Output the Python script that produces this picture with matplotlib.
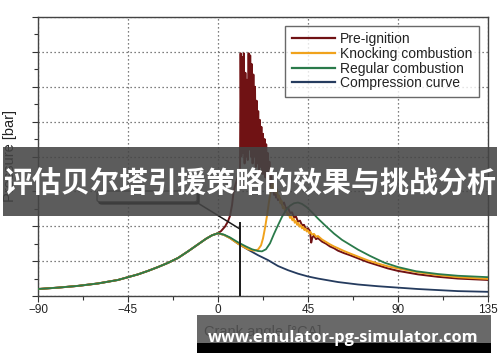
import matplotlib
matplotlib.use("Agg")
import matplotlib.pyplot as plt
from matplotlib.patches import Rectangle, FancyBboxPatch
from matplotlib.ticker import MultipleLocator, NullFormatter

plt.rcParams["font.family"] = ["Liberation Sans", "DejaVu Sans"]

W, H = 500, 362

# ---- data: crank angle [deg CA] and cylinder pressure [bar] ----
compression_x = [-90, -80, -70, -60, -50, -45, -40, -35, -30, -25, -20, -15, -10, -6, -3, 0,
                 3, 6, 10, 15, 20, 25, 30, 35, 40, 45, 50, 60, 70, 80, 90, 100, 110, 120, 135]
compression_y = [2.0, 2.4, 2.9, 3.6, 4.6, 5.4, 6.2, 7.2, 8.3, 9.5, 10.9, 12.8, 14.8, 16.4, 17.4, 18.0,
                 17.5, 16.6, 15.0, 13.3, 11.7, 10.3, 8.6, 7.4, 6.4, 5.6, 5.0, 4.0, 3.3, 2.8, 2.4, 2.0, 1.7, 1.4, 1.2]

intake_x = [-90, -80, -70, -60, -50, -45, -40, -35, -30, -25, -20, -15, -10, -6, -3]
intake_y = [2.0, 2.4, 2.9, 3.6, 4.6, 5.4, 6.2, 7.2, 8.3, 9.5, 10.9, 12.8, 14.8, 16.4, 17.4]

regular_x = intake_x + [0, 3, 6, 10, 14, 17, 20, 22, 24, 26, 28, 30, 32, 34, 36, 38, 40, 42, 44.3,
                        47, 50, 54, 58, 62, 66, 70, 76, 83, 90, 99, 110, 120, 135]
regular_y = intake_y + [18.0, 17.6, 16.8, 15.4, 14.2, 13.4, 12.9, 12.8, 13.4, 15.1, 17.8, 20.3, 22.7,
                        24.6, 25.9, 26.6, 26.8, 26.4, 25.5, 24.0, 22.2, 20.0, 17.9, 16.1, 14.7, 13.3,
                        11.5, 9.6, 8.3, 7.1, 6.3, 5.8, 5.4]

knock_x = intake_x + [0, 3, 6, 10, 15, 18, 20, 21.5, 22.5, 23.5, 24.5, 25.5, 26.3, 27, 27.6, 28.2,
                      28.8, 29.4, 30, 30.6, 31.2, 31.8, 32.4, 33, 33.6, 34.2, 34.8, 35.4, 36, 36.6,
                      37.2, 37.8, 38.4, 39, 39.6, 40.2, 40.8, 41.4, 42, 42.6, 43.2, 43.8, 44.4, 45,
                      45.6, 46.2, 47, 48, 49, 50, 52, 54, 56, 58, 60, 63, 66, 70, 75, 80, 85, 90,
                      100, 110, 120, 135]
knock_y = intake_y + [18.0, 17.5, 16.6, 15.0, 13.4, 13.0, 13.3, 14.5, 16.5, 19.5, 23.0, 27.0, 30.0,
                      32.0, 30.8, 32.3, 29.6, 30.6, 28.2, 28.8, 26.6, 27.3, 25.2, 25.7, 24.1, 24.6,
                      23.2, 23.7, 22.4, 22.9, 21.7, 22.2, 21.0, 21.5, 20.4, 20.9, 19.9, 20.3, 19.4,
                      19.8, 18.9, 19.3, 18.5, 18.8, 18.0, 18.4, 17.6, 17.8, 17.0, 17.2, 16.2, 15.5,
                      14.8, 14.2, 13.7, 12.9, 12.2, 11.3, 10.2, 9.3, 8.5, 7.9, 6.8, 6.0, 5.4, 4.9]

preign_x = intake_x + [0, 1.5, 3.5, 5, 6, 7, 7.7, 8.5, 9.3, 10.3, 11.0, 11.3, 11.7, 12.1, 12.5, 12.9,
                       13.3, 13.7, 14.1, 14.5, 14.9, 15.3, 15.7, 16.1, 16.5, 16.9, 17.3, 17.7, 18.1,
                       18.5, 18.9, 19.3, 19.7, 20.1, 20.5, 20.9, 21.3, 21.7, 22.1, 22.5, 22.9, 23.3,
                       23.7, 24.1, 24.5, 24.9, 25.3, 25.7, 26.1, 26.5, 27, 27.5, 28, 28.5, 29, 29.5,
                       30, 31, 32, 33, 34, 35, 36, 37, 38, 39, 40, 41, 42, 43, 44, 45, 46, 46.6, 47.2,
                       48, 49, 50, 52, 54, 56, 58, 60, 63, 66, 70, 75, 80, 85, 90, 100, 110, 120, 135]
preign_y = intake_y + [18.0, 18.6, 19.9, 21.4, 23.0, 26.0, 29.4, 31.5, 33.0, 35.0, 36.5, 69.6, 40.0,
                       68.5, 41.0, 69.6, 38.0, 64.0, 40.0, 62.0, 39.0, 69.6, 42.0, 69.0, 40.0, 66.5,
                       38.0, 63.5, 40.0, 60.0, 37.0, 56.0, 38.0, 53.0, 36.0, 50.5, 37.0, 48.5, 35.0,
                       46.5, 35.0, 45.0, 34.0, 43.5, 33.0, 41.0, 33.0, 38.5, 31.5, 35.5, 30.0, 32.0,
                       29.0, 30.5, 28.2, 29.4, 27.5, 28.0, 26.2, 26.8, 25.0, 25.4, 23.8, 24.0, 22.5,
                       22.8, 21.3, 21.6, 20.3, 20.4, 19.2, 19.4, 18.6, 15.3, 16.8, 17.3, 16.3, 16.6,
                       15.6, 15.0, 14.2, 13.7, 13.0, 12.3, 11.7, 10.8, 9.7, 8.8, 7.9, 7.2, 6.2, 5.5,
                       5.0, 4.6]

series_labels = ["Pre-ignition", "Knocking combustion", "Regular combustion", "Compression curve"]
series_colors = ["#701214", "#f0a21c", "#2a7a4a", "#253b5e"]

x_ticks = [-90, -45, 0, 45, 90, 135]
spark_angle = 10.8
title_text = "评估贝尔塔引援策略的效果与挑战分析"
site_text = "www.emulator-pg-simulator.com"

# ---- figure ----
fig = plt.figure(figsize=(W / 100, H / 100), dpi=100)
fig.patch.set_facecolor("white")

def fx(px):
    return px / W

def fy(py):
    return 1 - py / H

ax = fig.add_axes([fx(38), fy(296), fx(488) - fx(38), fy(17) - fy(296)])
ax.set_xlim(-90, 135)
ax.set_ylim(0, 80)

ax.plot(compression_x, compression_y, color=series_colors[3], lw=1.3, zorder=3)
ax.plot(preign_x, preign_y, color=series_colors[0], lw=1.4, zorder=4)
ax.plot(knock_x, knock_y, color=series_colors[1], lw=1.4, zorder=5)
ax.plot(regular_x, regular_y, color=series_colors[2], lw=1.3, zorder=6)

# spark marker and its callout
ax.plot([spark_angle, spark_angle], [0, 21], color="#1a1a1a", lw=1.4, zorder=7)
ax.plot([-12.5, 11.0], [27.5, 19.2], color="#1a1a1a", lw=1.1, zorder=7)
shadow = FancyBboxPatch((-59.5, 26.4), 50, 3.1, boxstyle="round,pad=0,rounding_size=1.5",
                        mutation_aspect=0.35, facecolor="black", edgecolor="black", zorder=7)
box = FancyBboxPatch((-60.5, 27.0), 50, 3.1, boxstyle="round,pad=0,rounding_size=1.5",
                     mutation_aspect=0.35, facecolor="white", edgecolor="#333333", lw=0.8, zorder=8)
ax.add_patch(shadow)
ax.add_patch(box)

ax.set_xticks(x_ticks)
ax.xaxis.set_minor_locator(MultipleLocator(22.5))
ax.yaxis.set_major_locator(MultipleLocator(10))
ax.yaxis.set_minor_locator(MultipleLocator(5))
ax.yaxis.set_major_formatter(NullFormatter())
ax.tick_params(axis="both", which="major", direction="out", length=4, width=0.8,
               colors="#333333", labelsize=8.5, labelcolor="#222222", pad=2)
ax.tick_params(axis="both", which="minor", direction="out", length=3, width=0.8, colors="#333333")
ax.grid(True, which="major", color="#555555", lw=0.9, linestyle=(0, (1, 2.2)))
for s in ax.spines.values():
    s.set_color("#444444")
    s.set_linewidth(1.0)

ax.set_xlabel("Crank angle [°CA]", fontsize=10.5, color="#222222", labelpad=6)
fig.text(fx(10), fy(156), "Pressure [bar]", rotation=90, ha="center", va="center",
         fontsize=10.5, color="#222222")

leg = ax.legend(series_labels, loc="upper right", fontsize=10, frameon=True, fancybox=False,
                handlelength=3.1, handletextpad=0.4, labelspacing=0.05, borderpad=0.45,
                borderaxespad=0.65)
for line, c in zip(leg.get_lines(), series_colors):
    line.set_color(c)
    line.set_linewidth(1.6)
leg.get_frame().set_edgecolor("#444444")
leg.get_frame().set_linewidth(1.0)
for t in leg.get_texts():
    t.set_color("#222222")
leg.set_zorder(10)

# ---- headline banner ----
fig.add_artist(Rectangle((fx(3), fy(216)), fx(497) - fx(3), fy(147) - fy(216),
                         transform=fig.transFigure, facecolor=(0.27, 0.27, 0.27), alpha=0.88,
                         edgecolor="none", zorder=20))
title = fig.text(fx(250), fy(193), title_text, ha="center", va="baseline", color="white",
                 fontsize=20.8, fontweight="bold",
                 family=["Noto Sans CJK SC", "DejaVu Sans"], zorder=21)

# ---- site strip ----
fig.add_artist(Rectangle((fx(197), fy(343)), fx(491) - fx(197), fy(315) - fy(343),
                         transform=fig.transFigure, facecolor=(0.33, 0.33, 0.33), alpha=0.88,
                         edgecolor="none", zorder=20))
fig.add_artist(Rectangle((fx(197), fy(353)), fx(491) - fx(197), fy(343) - fy(353),
                         transform=fig.transFigure, facecolor="black", edgecolor="none", zorder=20))
site = fig.text(fx(343), fy(341.5), site_text, ha="center", va="baseline", color="white",
                fontsize=12, fontweight="bold", family=["Open Sans", "DejaVu Sans"], zorder=21)

# fit the overlay texts to their strips
fig.canvas.draw()
r = fig.canvas.get_renderer()
for txt, target in ((title, 492), (site, 272)):
    w = txt.get_window_extent(r).width
    txt.set_fontsize(txt.get_fontsize() * target / w)

fig.savefig("out.png", dpi=100, facecolor="white")
